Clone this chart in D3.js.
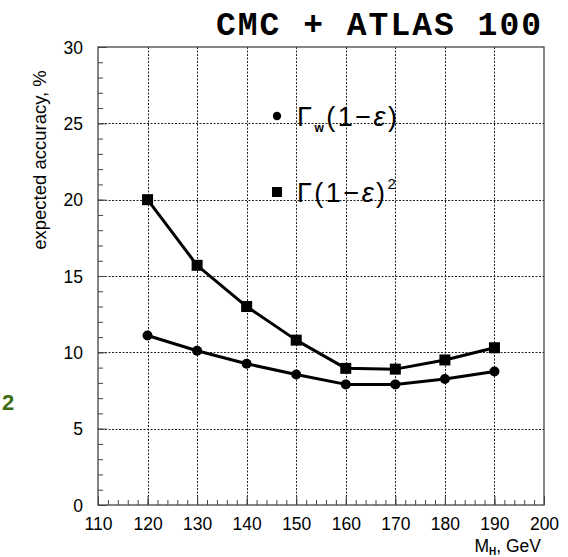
<!DOCTYPE html>
<html><head><meta charset="utf-8">
<script src="https://cdn.jsdelivr.net/npm/d3@7"></script>
<style>
html,body{margin:0;padding:0;background:#fff;}
svg{display:block;font-family:"Liberation Sans",Arial,sans-serif;}
</style></head>
<body>
<script>
// ---- data ----
const massValues = [120, 130, 140, 150, 160, 170, 180, 190];
const seriesGammaW = [11.1, 10.1, 9.25, 8.55, 7.9, 7.9, 8.25, 8.75];
const seriesGammaSq = [20.0, 15.7, 13.0, 10.8, 8.95, 8.9, 9.5, 10.3];
const xTickValues = [110, 120, 130, 140, 150, 160, 170, 180, 190, 200];
const yTickValues = [0, 5, 10, 15, 20, 25, 30];
const titleText = "CMC + ATLAS 100";
const yLabelText = "expected accuracy, %";

const W = 568, H = 557;
const L = 98, R = 544, T = 47, B = 505;

const svg = d3.select("body").append("svg").attr("width", W).attr("height", H);

const x = d3.scaleLinear().domain([110, 200]).range([L, R]);
const y = d3.scaleLinear().domain([0, 30]).range([B, T]);

// grid
const grid = svg.append("g").attr("stroke", "#222").attr("stroke-width", 1).attr("stroke-dasharray", "2,1.5");
grid.selectAll(".gx").data(xTickValues.filter(v => v > 110 && v < 200)).enter().append("line")
  .attr("x1", d => Math.round(x(d)) + 0.5).attr("x2", d => Math.round(x(d)) + 0.5)
  .attr("y1", T).attr("y2", B);
grid.selectAll(".gy").data(yTickValues.filter(v => v > 0 && v < 30)).enter().append("line")
  .attr("y1", d => Math.round(y(d)) + 0.5).attr("y2", d => Math.round(y(d)) + 0.5)
  .attr("x1", L).attr("x2", R);

// frame
svg.append("rect").attr("x", L).attr("y", T).attr("width", R - L).attr("height", B - T)
  .attr("fill", "none").attr("stroke", "#444").attr("stroke-width", 1.3);

// axes (ticks inward)
const xAxisMinor = d3.axisBottom(x).tickValues(d3.range(110, 201, 2)).tickSize(-5).tickFormat("");
const xAxisMajor = d3.axisBottom(x).tickValues(xTickValues).tickSize(-9).tickPadding(16);
const yAxisMinor = d3.axisLeft(y).tickValues(d3.range(0, 31, 1)).tickSize(-5).tickFormat("");
const yAxisMajor = d3.axisLeft(y).tickValues(yTickValues).tickSize(-9).tickPadding(15);

function styleAxis(g) {
  g.select(".domain").remove();
  g.selectAll("line").attr("stroke", "#444").attr("stroke-width", 1);
  g.selectAll("text").style("font-size", "17.5px").style("fill", "#000")
    .style("font-family", "'Liberation Sans',Arial,sans-serif");
}
svg.append("g").attr("transform", `translate(0,${B})`).call(xAxisMinor).call(styleAxis);
const gx = svg.append("g").attr("transform", `translate(0,${B})`).call(xAxisMajor).call(styleAxis);
gx.selectAll("text").attr("dy", "0.5em");
svg.append("g").attr("transform", `translate(${L},0)`).call(yAxisMinor).call(styleAxis);
const gy = svg.append("g").attr("transform", `translate(${L},0)`).call(yAxisMajor).call(styleAxis);
gy.selectAll("text").attr("dy", "0.35em");

// lines
const line = d3.line().x((d, i) => x(massValues[i])).y(d => y(d));
[seriesGammaSq, seriesGammaW].forEach(s => {
  svg.append("path").datum(s).attr("d", line).attr("fill", "none")
    .attr("stroke", "#000").attr("stroke-width", 3).attr("stroke-linejoin", "round");
});
svg.selectAll(".sq").data(seriesGammaSq).enter().append("rect")
  .attr("x", (d, i) => x(massValues[i]) - 5.5).attr("y", d => y(d) - 5.5)
  .attr("width", 11).attr("height", 11).attr("fill", "#000");
svg.selectAll(".ci").data(seriesGammaW).enter().append("circle")
  .attr("cx", (d, i) => x(massValues[i])).attr("cy", d => y(d)).attr("r", 5).attr("fill", "#000");

// legend
svg.append("circle").attr("cx", 277).attr("cy", 116).attr("r", 4.2).attr("fill", "#000");
svg.append("rect").attr("x", 272).attr("y", 187).attr("width", 10).attr("height", 10).attr("fill", "#000");
const lg1 = svg.append("text").attr("x", 297).attr("y", 126).style("font-size", "27px")
  .style("letter-spacing", "2.5px").style("fill", "#000");
lg1.append("tspan").text("Γ");
lg1.append("tspan").text("w").style("font-size", "12px").style("font-weight", "bold").attr("dy", 6);
lg1.append("tspan").text("(1−").attr("dy", -6);
lg1.append("tspan").text("ε").style("font-style", "italic");
lg1.append("tspan").text(")");
const lg2 = svg.append("text").attr("x", 297).attr("y", 202).style("font-size", "27px")
  .style("letter-spacing", "2.5px").style("fill", "#000");
lg2.append("tspan").text("Γ(1−");
lg2.append("tspan").text("ε").style("font-style", "italic");
lg2.append("tspan").text(")");
lg2.append("tspan").text("2").style("font-size", "15px").attr("dy", -13);

// title
svg.append("text").attr("x", 541).attr("y", 35).attr("text-anchor", "end")
  .style("font-family", "'Liberation Mono','Courier New',monospace").style("font-weight", "bold")
  .style("font-size", "33px").attr("textLength", 325).attr("lengthAdjust", "spacing").text(titleText);

// y label
svg.append("text").attr("transform", `translate(46,160) rotate(-90)`).attr("text-anchor", "middle")
  .style("font-size", "18.5px").style("fill", "#000").text(yLabelText);

// x label
const xl = svg.append("text").attr("x", 541).attr("y", 552).attr("text-anchor", "end").style("font-size", "17.5px").style("fill", "#000");
xl.append("tspan").text("M");
xl.append("tspan").text("H").style("font-size", "10px").style("font-weight", "bold").attr("dy", 3);
xl.append("tspan").text(", GeV").attr("dy", -3);

// stray green label
svg.append("text").attr("x", 2).attr("y", 410).style("font-size", "22px").style("font-weight", "bold")
  .style("fill", "#3a6e10").text("2");
</script>
</body></html>
